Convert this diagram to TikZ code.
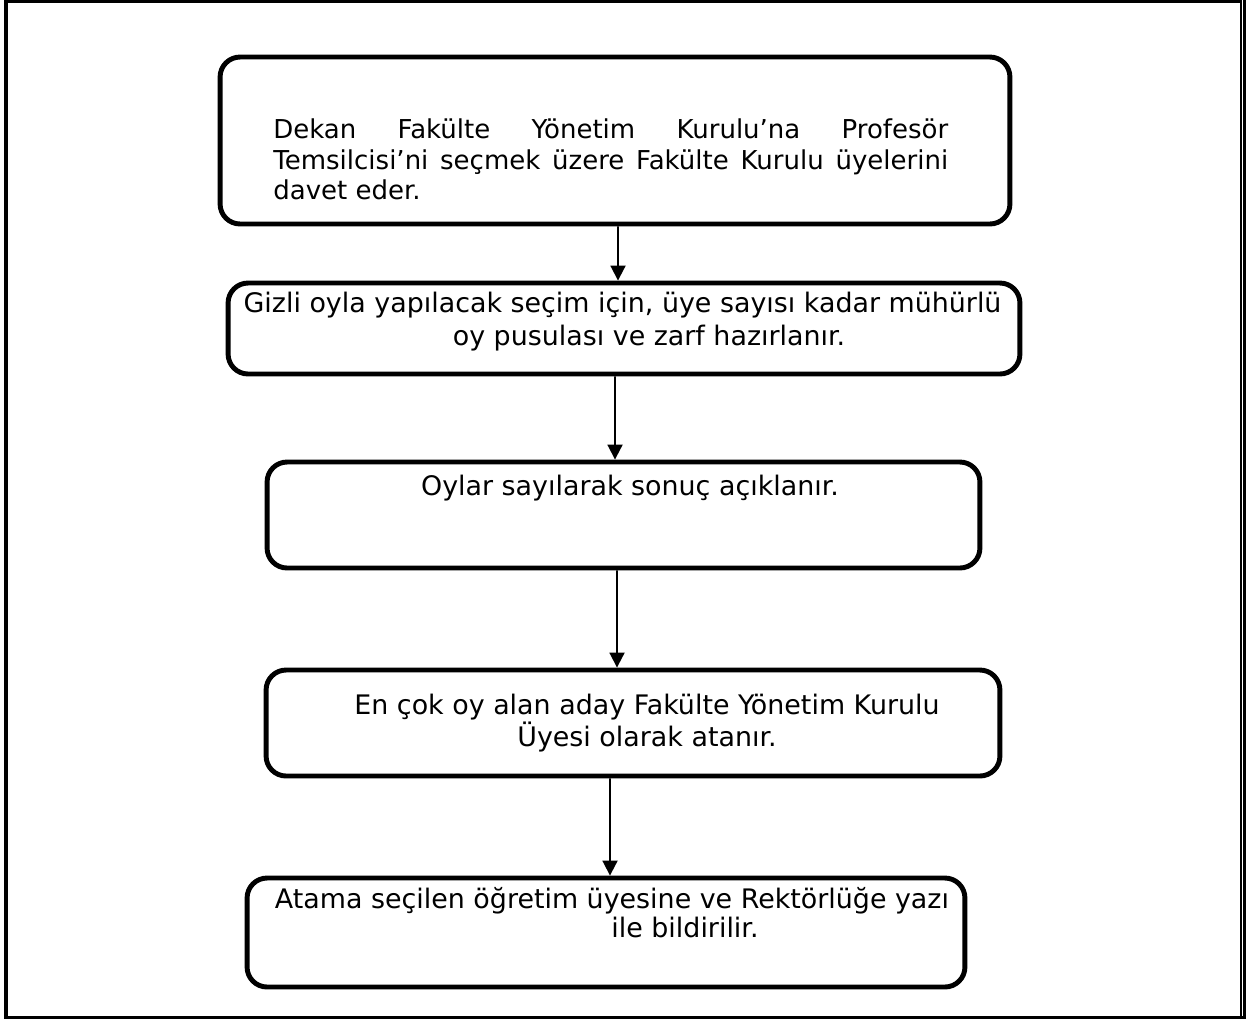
\documentclass[tikz,border=0pt]{standalone}
\usepackage{fontspec}
\setmainfont{DejaVu Sans}
\usetikzlibrary{arrows.meta}

\begin{document}
\begin{tikzpicture}[x=0.02cm,y=-0.02cm,
        stepbox/.style={draw,rectangle,rounded corners=0.4cm,line width=2.8pt,inner sep=0pt},
        steptext/.style={inner sep=0pt,anchor=north,align=center,font=\fontsize{15.3}{18.4}\selectfont},
        flowarrow/.style={-{Triangle[length=0.3cm,width=0.3cm]},line width=1.1pt}]
        \useasboundingbox (0,0) rectangle (1256,1019);
        % page frame
        \draw[line width=1.7pt] (4,1.5) -- (1241,1.5);
        \draw[line width=2.3pt] (6,0) -- (6,1019);
        \draw[line width=1.9pt] (4,1017.3) -- (1246,1017.3);
        \draw[line width=0.8pt] (1241,0) -- (1241,1016);
        \draw[line width=1.4pt] (1244.5,0) -- (1244.5,1019);

        % boxes
        \node[stepbox,minimum width=15.8cm,minimum height=3.34cm] (b1) at (615,140.5) {};
        \node[stepbox,minimum width=15.84cm,minimum height=1.82cm] (b2) at (624,328.5) {};
        \node[stepbox,minimum width=14.26cm,minimum height=2.12cm] (b3) at (623.5,515) {};
        \node[stepbox,minimum width=14.68cm,minimum height=2.12cm] (b4) at (633,723) {};
        \node[stepbox,minimum width=14.36cm,minimum height=2.18cm] (b5) at (606,932.5) {};

        % texts
        \node[inner sep=0pt,anchor=north west] (t1) at (273,118) {
            \begin{minipage}{13.5cm}
                \fontsize{14.8}{17.6}\selectfont
                Dekan Fakülte Yönetim Kurulu’na Profesör\linebreak
                Temsilcisi’ni seçmek üzere Fakülte Kurulu üyelerini\linebreak
                davet eder.
            \end{minipage}
        };
        \node[steptext] (t2) at (622.5,292) {Gizli oyla yapılacak seçim için, üye sayısı kadar mühürlü\\ \hspace*{1.06cm}oy pusulası ve zarf hazırlanır.};
        \node[steptext] (t3) at (630,475) {Oylar sayılarak sonuç açıklanır.};
        \node[steptext] (t4) at (647,693.5) {En çok oy alan aday Fakülte Yönetim Kurulu\\Üyesi olarak atanır.};
        \node[steptext,font=\fontsize{15.3}{16.5}\selectfont] (t5) at (612,887) {Atama seçilen öğretim üyesine ve Rektörlüğe yazı\\ \hspace*{2.92cm}ile bildirilir.};

        % arrows
        \draw[flowarrow] ([xshift=0.06cm]b1.south) -- ([xshift=-0.12cm]b2.north);
        \draw[flowarrow] ([xshift=-0.18cm]b2.south) -- ([xshift=-0.17cm]b3.north);
        \draw[flowarrow] ([xshift=-0.13cm]b3.south) -- ([xshift=-0.32cm]b4.north);
        \draw[flowarrow] ([xshift=-0.46cm]b4.south) -- ([xshift=0.08cm]b5.north);
\end{tikzpicture}
\end{document}
